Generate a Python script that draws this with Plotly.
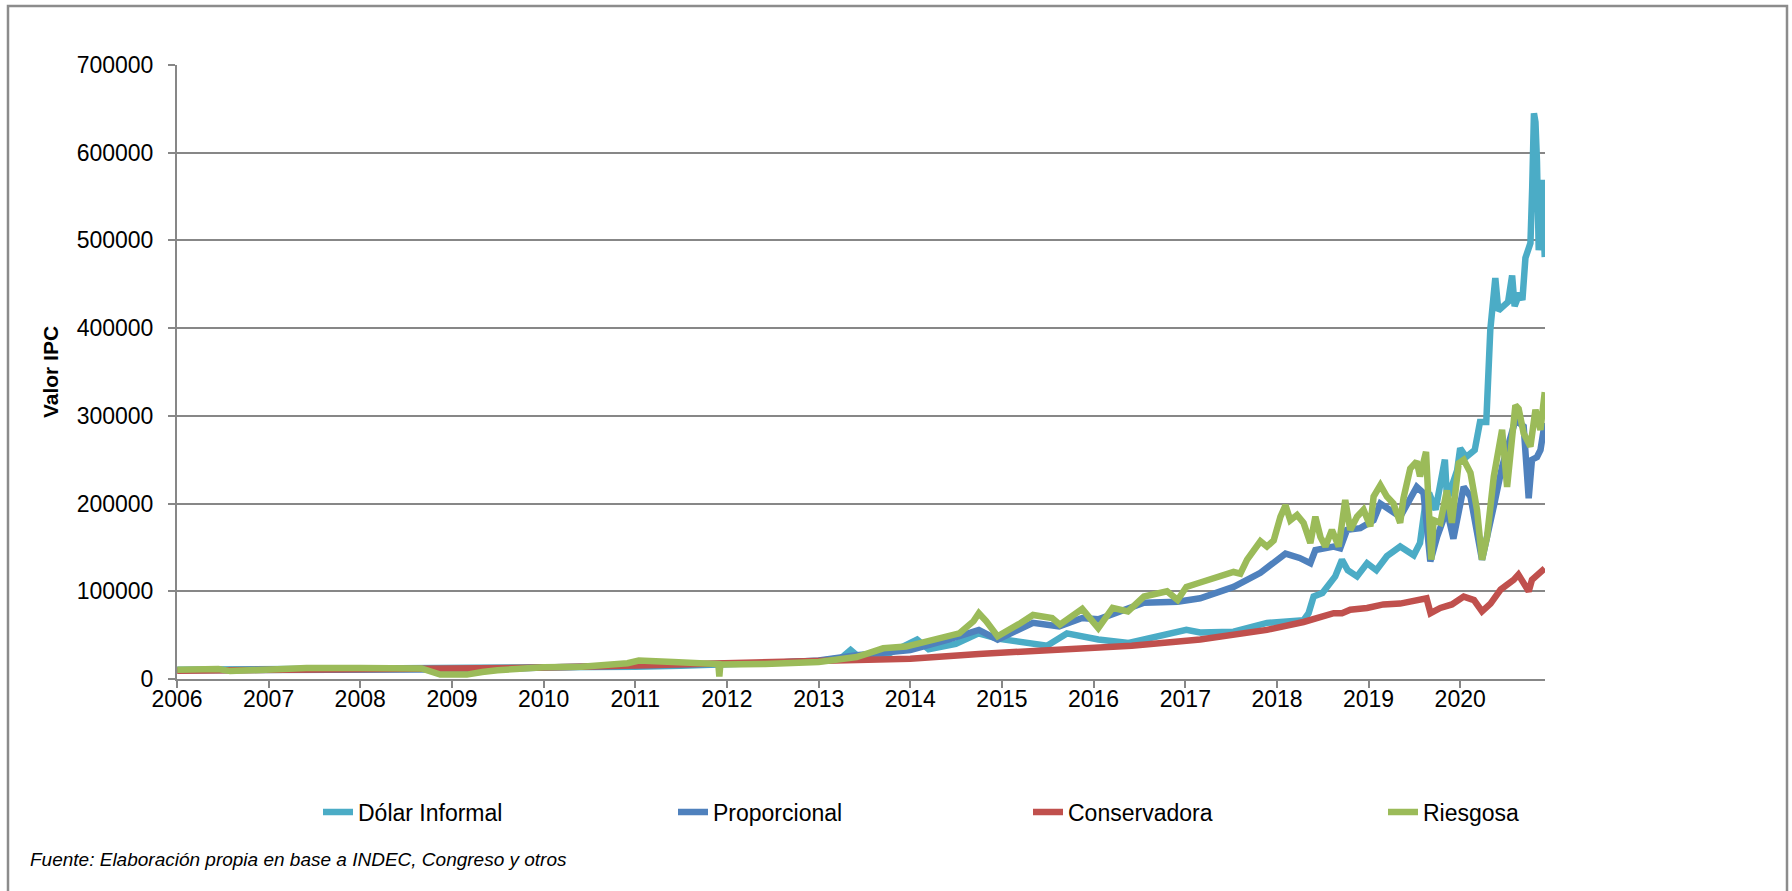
import plotly.graph_objects as go

# ---------------- data ----------------
dolar_dates = ["2006-01-02","2006-07-01","2007-01-01","2007-07-01","2008-01-01","2008-07-01","2009-01-01","2009-07-01",
    "2010-01-01","2010-07-01","2011-01-01","2011-07-01","2012-01-01","2012-07-01","2013-01-01","2013-04-01","2013-05-08",
    "2013-06-10","2013-10-01","2014-01-28","2014-03-15","2014-07-01","2014-09-30","2014-12-15","2015-03-17","2015-06-30",
    "2015-09-17","2016-01-20","2016-05-20","2016-09-20","2017-01-05","2017-03-01","2017-07-12",
    "2017-11-22","2018-02-23","2018-04-17","2018-05-07","2018-05-27","2018-07-01","2018-08-21","2018-09-17","2018-10-10",
    "2018-11-16","2018-12-26","2019-02-01","2019-03-15","2019-05-07","2019-06-30","2019-07-25","2019-08-14","2019-08-30",
    "2019-09-25","2019-11-01","2019-11-10","2019-12-20","2020-01-01","2020-01-25","2020-02-28","2020-03-20","2020-04-14",
    "2020-04-30","2020-05-20","2020-06-01","2020-06-20","2020-07-10","2020-07-26","2020-08-05","2020-08-25","2020-09-05",
    "2020-09-17","2020-10-07","2020-10-14","2020-10-21","2020-10-27","2020-11-02","2020-11-09","2020-11-16","2020-11-22",
    "2020-11-29","2020-12-03"]
dolar_values = [10500,10800,11000,11200,11000,10800,12500,12800,
    13000,12500,14000,15000,16500,18000,20500,24000,33000,
    25000,28000,45000,34000,40000,52000,46000,42000,38000,
    52000,45000,41000,50000,56000,53000,54000,
    64000,67000,67000,75000,94000,98000,117000,136000,124000,
    117000,132000,124000,140000,151000,141000,155000,197000,212000,
    193000,250000,204000,238000,263000,253000,261000,293000,293000,
    398000,457000,420000,425000,430000,460000,425000,440000,432000,
    480000,497000,560000,645000,635000,590000,489000,510000,569000,
    531000,481000]

prop_dates = ["2006-01-02","2007-01-01","2008-01-01","2009-01-01","2009-06-01","2010-01-01","2011-01-01","2011-06-01",
    "2012-01-01","2012-06-01","2013-01-01","2013-06-01","2014-01-01","2014-06-01","2014-10-01","2014-12-15","2015-05-05",
    "2015-08-17","2015-11-17","2016-01-20","2016-07-20","2016-12-01","2017-03-01","2017-07-12",
    "2017-10-27","2018-02-04","2018-04-01","2018-05-14","2018-06-03","2018-08-15","2018-09-10","2018-10-07","2018-11-29",
    "2019-01-21","2019-02-17","2019-05-07","2019-07-12","2019-08-08","2019-09-04","2019-10-01","2019-11-09","2019-12-05",
    "2020-01-15","2020-02-11","2020-03-28","2020-05-14","2020-06-16","2020-08-08","2020-09-10","2020-09-30","2020-10-13",
    "2020-11-02","2020-11-16","2020-12-03"]
prop_values = [10000,10500,10500,10000,11000,13000,16000,17000,
    17500,18000,21000,27000,33000,45000,56000,45000,64000,
    60000,69500,68000,87000,88000,92000,105000,
    121000,143000,138000,132000,147000,151000,149000,170000,172000,
    181000,200000,185000,219000,212000,134000,162000,193000,160000,
    219000,208000,136000,197000,242000,295000,288000,206000,250000,
    253000,261000,292000]

cons_dates = ["2006-01-02","2007-01-01","2008-01-01","2008-10-01","2009-03-01","2010-01-01","2011-01-01","2011-06-01",
    "2012-01-01","2013-01-01","2014-01-01","2014-10-01","2015-08-20","2016-06-01","2017-03-01","2017-07-12","2017-11-22",
    "2018-04-17","2018-08-15","2018-09-17","2018-10-20","2018-12-26","2019-03-01",
    "2019-05-07","2019-07-12","2019-08-20","2019-09-05","2019-10-14","2019-11-29","2020-01-15","2020-02-25","2020-03-28",
    "2020-05-01","2020-06-10","2020-08-01","2020-08-20","2020-09-30","2020-10-13","2020-12-03"]
cons_values = [9500,10000,10500,11500,12000,13000,15500,16500,
    17000,19000,23000,28500,33500,38000,45000,50000,56000,
    65000,75000,75000,79000,81000,85000,
    86000,90000,92000,75000,81000,85000,94000,90000,77000,
    86000,102000,113000,119000,100000,113000,126000]

ries_dates = ["2006-01-02","2006-06-15","2006-08-01","2007-01-01","2007-06-01","2008-01-01","2008-06-01","2008-09-01",
    "2008-11-15","2009-03-01","2009-05-01","2009-07-01","2010-01-01","2010-06-01","2010-12-01","2011-01-15","2011-06-01",
    "2011-09-01","2011-11-28","2011-12-02","2011-12-06","2012-06-01","2013-01-01","2013-06-01","2013-09-15","2013-12-15",
    "2014-04-15","2014-07-15","2014-09-10","2014-10-01","2014-10-30","2014-12-15","2015-03-17","2015-05-05","2015-07-20",
    "2015-08-20","2015-11-17","2016-01-20","2016-03-17","2016-05-17","2016-07-20","2016-10-20","2016-12-01","2017-01-05",
    "2017-03-01","2017-05-20","2017-07-12",
    "2017-08-08","2017-09-04","2017-10-27","2017-11-22","2017-12-19","2018-01-15","2018-02-04","2018-02-23","2018-03-22",
    "2018-04-17","2018-05-14","2018-06-03","2018-06-23","2018-07-13","2018-08-08","2018-09-04","2018-09-30","2018-10-20",
    "2018-11-16","2018-12-12","2019-01-08","2019-01-21","2019-02-17","2019-03-15","2019-04-10","2019-05-07","2019-05-20",
    "2019-06-16","2019-07-12","2019-07-25","2019-08-18","2019-08-28","2019-09-08","2019-09-17","2019-10-14","2019-11-09",
    "2019-11-29","2019-12-26","2020-01-15","2020-02-11","2020-03-08","2020-03-28","2020-04-17","2020-05-14","2020-06-16",
    "2020-07-06","2020-08-08","2020-08-21","2020-09-10","2020-10-07","2020-10-27","2020-11-16","2020-12-03"]
ries_values = [10500,11400,9000,11000,12500,12500,12500,12000,
    5000,5000,8000,10000,13500,14000,18000,21000,19500,
    17500,17000,3000,16500,17000,19500,25000,35000,37000,
    45000,52000,66000,75000,66000,48600,63800,73000,69500,
    62000,80000,58000,81000,77000,94000,100000,90000,105000,
    110000,117000,122000,
    120000,136000,157000,151000,158000,185000,198000,181000,187000,
    178000,155000,185000,162000,151000,170000,151000,204000,170000,
    185000,193000,174000,208000,221000,208000,200000,178000,206000,
    240000,248000,231000,259000,204000,136000,181000,178000,215000,
    178000,246000,250000,235000,193000,136000,162000,231000,284000,
    219000,312000,308000,280000,265000,307000,284000,327000]

series_names = ["Dólar Informal", "Proporcional", "Conservadora", "Riesgosa"]
series_colors = ["#4BACC6", "#4F81BD", "#C0504D", "#9BBB59"]
year_range = ["2006-01-01", "2020-12-04"]
y_range = [0, 700000]

# ---------------- layout geometry (pixels) ----------------
W, H = 1792, 891
L, R, T, B = 177, 1545, 65, 679
FONT = "Liberation Sans, Arial, sans-serif"
GRID = "#878787"

def px_x(p):
    return (p - L) / (R - L)

def px_y(p):
    return (B - p) / (B - T)

fig = go.Figure()
for name, color, xs, ys in zip(series_names, series_colors,
                               [dolar_dates, prop_dates, cons_dates, ries_dates],
                               [dolar_values, prop_values, cons_values, ries_values]):
    fig.add_trace(go.Scatter(x=xs, y=ys, name=name, mode="lines",
                             line=dict(color=color, width=6.5, shape="linear")))

fig.update_layout(
    width=W, height=H,
    margin=dict(l=L, r=W - R, t=T, b=H - B),
    paper_bgcolor="white", plot_bgcolor="white",
    font=dict(family=FONT, size=23, color="#000000"),
    showlegend=True,
    legend=dict(orientation="h", x=px_x(1738), xanchor="right", y=px_y(812), yanchor="middle",
                font=dict(family=FONT, size=23, color="#000000"),
                entrywidth=310, entrywidthmode="pixels", bgcolor="rgba(0,0,0,0)",
                itemclick=False, itemdoubleclick=False),
    xaxis=dict(type="date", range=year_range, dtick="M12", tick0="2006-01-01", tickformat="%Y",
               showgrid=False, showline=True, linecolor=GRID, linewidth=2,
               ticks="outside", ticklen=7, tickwidth=2, tickcolor=GRID,
               ticklabelstandoff=-9, zeroline=False,
               tickfont=dict(family=FONT, size=23, color="#000000")),
    yaxis=dict(range=y_range, dtick=100000, tick0=0, tickformat="d",
               showgrid=True, gridcolor=GRID, gridwidth=2,
               showline=True, linecolor=GRID, linewidth=2,
               ticks="outside", ticklen=7, tickwidth=2, tickcolor=GRID,
               ticklabelstandoff=10, zeroline=False,
               tickfont=dict(family=FONT, size=23, color="#000000"),
               title=dict(text="<b>Valor IPC</b>", standoff=12,
                          font=dict(family=FONT, size=21, color="#000000"))),
    annotations=[dict(text="<i>Fuente: Elaboración propia en base a INDEC, Congreso y otros</i>",
                      xref="paper", yref="paper", x=px_x(28), y=px_y(859),
                      xanchor="left", yanchor="middle", showarrow=False,
                      font=dict(family=FONT, size=19, color="#000000"))],
    shapes=[dict(type="rect", xref="paper", yref="paper",
                 x0=px_x(8), x1=px_x(1787), y0=px_y(897), y1=px_y(6),
                 line=dict(color="#8c8c8c", width=2.5), fillcolor="rgba(0,0,0,0)", layer="below")],
)

fig.write_html("out.html", config={"displayModeBar": False},
               post_script="document.body.style.margin='0';document.body.style.overflow='hidden';")
